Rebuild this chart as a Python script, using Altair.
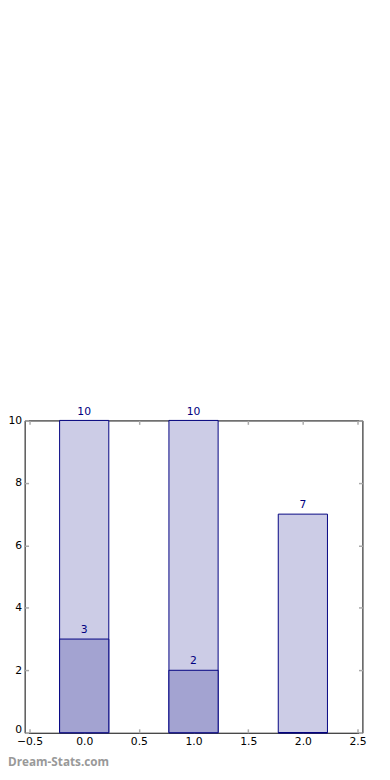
import altair as alt
import pandas as pd

# data
positions = [0, 1, 2]
totals = [10, 10, 7]
parts = [3, 2, 0]
x_ticks = [-0.5, 0.0, 0.5, 1.0, 1.5, 2.0, 2.5]
y_ticks = [0, 2, 4, 6, 8, 10]
watermark_text = ["Dream-Stats.com"]

df = pd.DataFrame({"x": positions, "total": totals, "part": parts})

NAVY = "#000080"
LIGHT = "#ccccE6"
DARK = "#a3a3d1"
TICK = "#aaaaaa"
FONT = "DejaVu Sans"

xs = alt.Scale(domain=[-0.5, 2.5], nice=False, zero=False)
ys = alt.Scale(domain=[0, 10], nice=False)

ax_bottom = alt.Axis(orient="bottom", offset=-4, tickSize=4, tickColor=TICK, tickWidth=1.5,
                     values=x_ticks, format=".1f", labelPadding=3, title=None, labelFlush=False)
ax_left = alt.Axis(orient="left", offset=-4, tickSize=4, tickColor=TICK, tickWidth=1.5,
                   values=y_ticks, format="d", labelPadding=3, title=None, labelFlush=False,
                   labelBaseline={"expr": "datum.value == 0 ? 'alphabetic' : 'middle'"})
ax_top = alt.Axis(orient="top", offset=-4, tickSize=4, tickColor=TICK, tickWidth=1.5,
                  values=x_ticks, labels=False, title=None)
ax_right = alt.Axis(orient="right", offset=-4, tickSize=4, tickColor=TICK, tickWidth=1.5,
                    values=y_ticks, labels=False, title=None)

base = alt.Chart(df).transform_calculate(x0="datum.x - 0.225", x1="datum.x + 0.225")

light = base.mark_bar(fill=LIGHT, stroke=NAVY, strokeWidth=1, orient="vertical").encode(
    x=alt.X("x0:Q", scale=xs, axis=ax_bottom),
    x2="x1:Q",
    y=alt.Y("total:Q", scale=ys, axis=ax_left),
    y2=alt.datum(0),
)

dark = base.mark_bar(fill=DARK, stroke=NAVY, strokeWidth=1, orient="vertical").encode(
    x=alt.X("x0:Q", scale=xs, axis=ax_top),
    x2="x1:Q",
    y=alt.Y("part:Q", scale=ys, axis=ax_right),
    y2=alt.datum(0),
)

lab_total = base.mark_text(dy=-4, baseline="bottom", font=FONT, fontSize=11, color=NAVY).encode(
    x=alt.X("x:Q", scale=xs, axis=None),
    y=alt.Y("total:Q", scale=ys, axis=None),
    text="total:Q",
)

lab_part = base.transform_filter("datum.part > 0").mark_text(
    dy=-4, baseline="bottom", font=FONT, fontSize=11, color=NAVY
).encode(
    x=alt.X("x:Q", scale=xs, axis=None),
    y=alt.Y("part:Q", scale=ys, axis=None),
    text="part:Q",
)

wm = alt.Chart(pd.DataFrame({"t": watermark_text})).mark_text(
    align="left", baseline="alphabetic", font="Open Sans", fontSize=12, fontWeight="bold", color="#999999"
).encode(x=alt.value(-17), y=alt.value(353), text="t:N")

chart = (
    alt.layer(light, dark, lab_total, lab_part, wm)
    .resolve_axis(x="independent", y="independent")
    .properties(
        width=345,
        height=319,
        autosize=alt.AutoSizeParams(type="none"),
        padding={"left": 17, "top": 413, "right": 20, "bottom": 40},
        background="white",
    )
    .configure_view(stroke="black", strokeWidth=1)
    .configure_axis(domain=False, grid=False, labelFont=FONT, labelFontSize=11, labelColor="black")
)

chart.save("out.html", embed_options={"renderer": "svg", "actions": False})
